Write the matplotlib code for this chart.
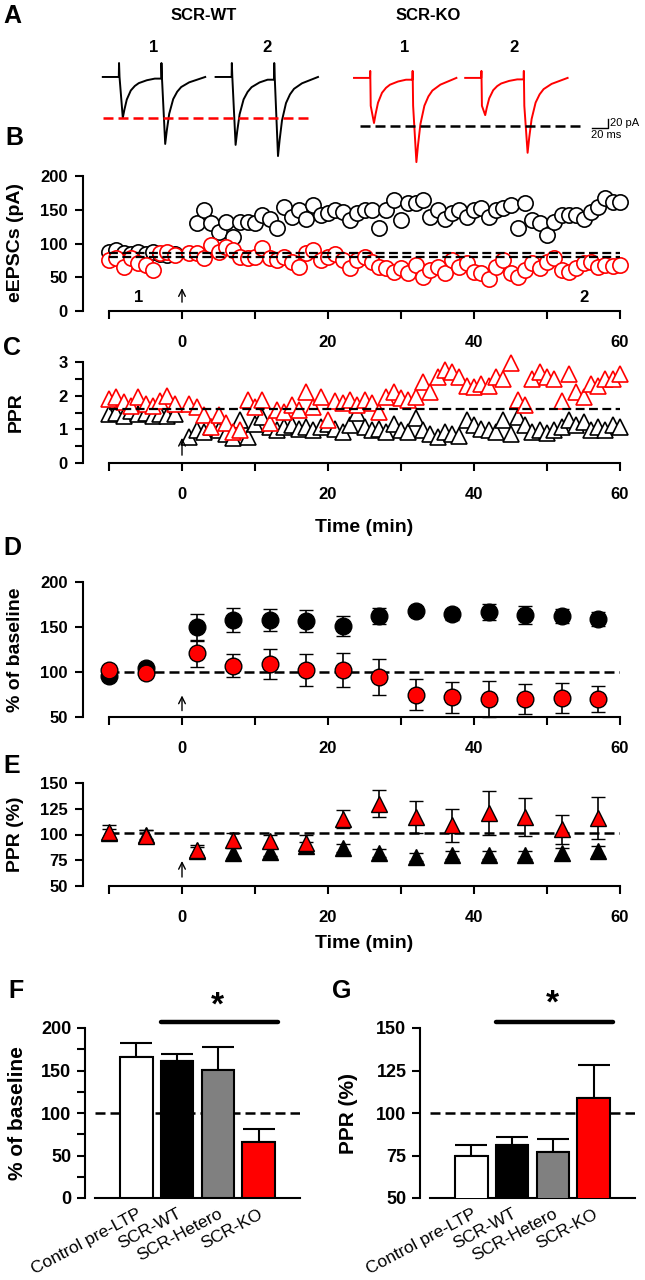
import numpy as np
import matplotlib.pyplot as plt

plt.rcParams['font.family'] = ['Liberation Sans', 'DejaVu Sans']
plt.rcParams['font.weight'] = 'bold'

W, H = 645, 1280

# ---- panel A: paired-pulse traces (ms / pA) ----
sweep_start = [16, 157, 330, 469]          # ms
sweep_color = ['black', 'black', 'red', 'red']
peak_amp = [(88, 144), (146, 170), (97, 181), (80, 161)]   # pA
art_up = [30, 30, 15, 15]
art_dn = [0, 0, 60, 60]
STIM, ISI, SWEEP = 20, 53, 128
decay_t = [0, 2, 5, 10, 15, 20, 30, 40, 55]
decay_f = [1, 0.8, 0.55, 0.33, 0.22, 0.15, 0.08, 0.04, 0.0]

# ---- panel B: eEPSC amplitude (pA) ----
t_base = list(range(-10, 0))
b_wt_base = [88, 91, 86, 84, 87, 85, 88, 84, 83, 84]
t_wt_post_b = list(range(2, 61))
b_wt_post = [130, 150, 130, 117, 132, 110, 132, 132, 130, 142, 137, 123, 154, 140, 150,
             137, 157, 142, 145, 150, 147, 135, 145, 150, 150, 123, 150, 164, 135, 160,
             160, 164, 140, 150, 137, 145, 150, 140, 150, 152, 140, 150, 152, 157, 123,
             160, 135, 130, 113, 132, 142, 142, 142, 137, 147, 154, 167, 162, 162]
b_ko_base = [76, 79, 65, 79, 71, 68, 61, 86, 87, 83]
t_post = list(range(1, 61))
b_ko_post = [86, 86, 78, 98, 87, 95, 90, 80, 78, 80, 93, 78, 75, 80, 73, 65, 86, 91, 75, 80,
             85, 75, 64, 75, 80, 73, 65, 64, 58, 64, 56, 68, 51, 61, 65, 56, 75, 65, 71, 58,
             56, 48, 65, 75, 56, 51, 61, 71, 64, 73, 78, 61, 58, 64, 71, 73, 65, 68, 66, 68]
b_ref = [86, 80]

# ---- panel C: PPR ----
c_wt_base = [1.45, 1.5, 1.4, 1.55, 1.45, 1.5, 1.4, 1.45, 1.4, 1.45]
c_wt_post = [0.77, 0.97, 0.93, 1.07, 0.97, 0.85, 0.75, 1.27, 0.77, 1.17, 1.37, 1.07, 0.97, 1.07,
             1.12, 1.0, 1.07, 0.97, 1.07, 1.17, 1.02, 0.93, 1.12, 1.48, 1.07, 0.97, 1.02, 0.93,
             1.17, 0.97, 0.93, 1.33, 0.97, 0.87, 0.77, 0.93, 0.87, 0.8, 1.27, 1.12, 1.02, 0.97,
             0.93, 1.27, 0.87, 1.37, 1.12, 0.93, 0.97, 0.9, 0.97, 1.07, 1.27, 1.12, 1.22, 0.97,
             1.07, 0.97, 1.12, 1.07]
c_ko_base = [1.9, 1.95, 1.8, 1.7, 1.95, 1.75, 1.7, 1.85, 2.0, 1.75]
c_ko_post = [1.75, 1.67, 1.42, 1.07, 1.42, 1.2, 0.93, 0.97, 1.87, 1.67, 1.87, 1.2, 1.57, 1.52,
             1.72, 1.57, 2.1, 1.67, 1.97, 1.27, 1.83, 1.78, 1.87, 1.72, 1.87, 1.78, 1.52, 1.97,
             2.1, 1.92, 1.87, 1.97, 2.4, 2.1, 2.55, 2.75, 2.7, 2.55, 2.3, 2.25, 2.35, 2.3, 2.55,
             2.5, 2.97, 1.87, 1.72, 2.5, 2.7, 2.55, 2.5, 1.83, 2.65, 2.1, 1.97, 2.35, 2.3, 2.5,
             2.5, 2.65]
c_ref = 1.6

# ---- panels D / E: 5-min averages ----
d_t = [-10, -5, 2, 7, 12, 17, 22, 27, 32, 37, 42, 47, 52, 57]
d_wt = [96, 104, 150, 158, 158, 157, 151, 162, 168, 164, 167, 163, 162, 159]
d_wt_err = [4, 4, 15, 13, 12, 12, 11, 9, 4, 6, 9, 10, 8, 8]
d_ko = [102, 99, 121, 107, 109, 102, 102, 94, 75, 72, 70, 70, 71, 70]
d_ko_err = [5, 5, 15, 13, 17, 18, 19, 20, 17, 17, 20, 17, 17, 14]
e_wt = [101, 100, 84, 82, 83, 89, 87, 82, 78, 80, 80, 80, 82, 84]
e_wt_err = [4, 4, 4, 5, 4, 4, 4, 4, 4, 4, 4, 4, 5, 5]
e_ko = [102, 99, 85, 95, 94, 92, 115, 130, 117, 109, 121, 117, 105, 116]
e_ko_err = [7, 5, 5, 6, 6, 8, 9, 13, 16, 16, 21, 18, 14, 20]

# ---- panels F / G: bar summaries ----
groups = ['Control pre-LTP', 'SCR-WT', 'SCR-Hetero', 'SCR-KO']
bar_colors = ['white', 'black', '#808080', '#ff0000']
f_vals = [166, 161, 151, 66]
f_err = [16, 8, 27, 15]
g_vals = [75, 81, 77, 109]
g_err = [6, 5, 8, 19]

fig = plt.figure(figsize=(W / 100, H / 100), dpi=100)


def add_ax(left, top, right, bottom):
    return fig.add_axes([left / W, 1 - bottom / H, (right - left) / W, (bottom - top) / H])


def ftext(x, y, s, **kw):
    fig.text(x / W, 1 - y / H, s, **kw)


DASH = (0, (4, 2))


def time_axis(ax, ylim, yticks, ylabels, minor=None):
    ax.set_xlim(-10, 60)
    ax.set_ylim(*ylim)
    for s in ['top', 'right']:
        ax.spines[s].set_visible(False)
    ax.spines['left'].set_position(('outward', 18.7))
    for s in ['left', 'bottom']:
        ax.spines[s].set_linewidth(1.5)
    ax.set_xticks(range(-10, 61, 10))
    ax.set_xticklabels(['', '0', '', '20', '', '40', '', '60'])
    ax.set_yticks(yticks)
    ax.set_yticklabels(ylabels)
    if minor is not None:
        ax.set_yticks(minor, minor=True)
    ax.tick_params(which='both', direction='out', length=6, width=1.5, labelsize=12)
    ax.tick_params(axis='x', pad=11)
    ax.tick_params(axis='y', pad=5)


def arrow(ax, y0, y1):
    ax.annotate('', xy=(0, y1), xytext=(0, y0),
                arrowprops=dict(arrowstyle='->', lw=1.0, color='black', mutation_scale=12))


# ---------------- A ----------------
axA = add_ax(90, 40, 640, 170)
axA.set_xlim(0, 687.5)
axA.set_ylim(-200, 79.5)
axA.axis('off')
for t0, col, amps, up, dn in zip(sweep_start, sweep_color, peak_amp, art_up, art_dn):
    base = 0 if col == 'black' else -2
    xs, ys = [t0], [base]
    for k, a in enumerate(amps):
        ts = t0 + STIM + k * ISI
        stop = t0 + STIM + (k + 1) * ISI if k == 0 else t0 + SWEEP
        xs += [ts, ts + 0.3, ts + 0.9, ts + 5]
        ys += [ys[-1], base + up, base - dn, base - a]
        for dt, f in zip(decay_t[1:], decay_f[1:]):
            if ts + 5 + dt < stop:
                xs.append(ts + 5 + dt)
                ys.append(base - a * f)
    xs.append(t0 + SWEEP)
    ys.append(base)
    axA.plot(xs, ys, color=col, lw=1.4)
axA.plot([16, 274], [-88, -88], color='red', lw=1.8, ls=DASH)
axA.plot([337, 612], [-105, -105], color='black', lw=1.8, ls=DASH)
# scale bar 20 ms / 20 pA
axA.plot([628, 648, 648], [-110, -110, -90], color='black', lw=1.0)
axA.text(650, -100, '20 pA', fontsize=8, fontweight='normal', va='center', ha='left')
axA.text(626, -114, '20 ms', fontsize=8, fontweight='normal', va='top', ha='left')

ftext(12, 16, 'A', fontsize=18, ha='center', va='center')
ftext(204, 16, 'SCR-WT', fontsize=12, ha='center', va='center')
ftext(428, 16, 'SCR-KO', fontsize=12, ha='center', va='center')
for x, s in [(154, '1'), (267, '2'), (405, '1'), (514, '2')]:
    ftext(x, 48, s, fontsize=12, ha='center', va='center')

# ---------------- B ----------------
axB = add_ax(109, 176, 620, 311)
time_axis(axB, (0, 200), [0, 50, 100, 150, 200], ['0', '50', '100', '150', '200'])
mk = dict(ls='none', marker='o', ms=11, mfc='white', mew=1.2, clip_on=False)
axB.plot(t_base, b_wt_base, mec='black', zorder=3, **mk)
axB.plot(t_wt_post_b, b_wt_post, mec='black', zorder=3, **mk)
axB.plot(t_base, b_ko_base, mec='red', zorder=4, **mk)
axB.plot(t_post, b_ko_post, mec='red', zorder=4, **mk)
for r in b_ref:
    axB.axhline(r, color='black', lw=1.6, ls=DASH, zorder=5)
arrow(axB, 9, 38)
axB.text(-6, 20, '1', fontsize=12, ha='center', va='center')
axB.text(55, 20, '2', fontsize=12, ha='center', va='center')
ftext(14, 138, 'B', fontsize=18, ha='center', va='center')
ftext(16, 243, 'eEPSCs (pA)', fontsize=14, rotation=90, ha='center', va='center')

# ---------------- C ----------------
axC = add_ax(109, 362, 620, 463)
time_axis(axC, (0, 3), [0, 1, 2, 3], ['0', '1', '2', '3'], minor=[0.5, 1.5, 2.5])
tk = dict(ls='none', marker='^', ms=12, mfc='white', mew=1.2, clip_on=False)
axC.plot(t_base, c_wt_base, mec='black', zorder=3, **tk)
axC.plot(t_post, c_wt_post, mec='black', zorder=3, **tk)
axC.plot(t_base, c_ko_base, mec='red', zorder=4, **tk)
axC.plot(t_post, c_ko_post, mec='red', zorder=4, **tk)
axC.axhline(c_ref, color='black', lw=1.6, ls=DASH, zorder=5)
arrow(axC, 0.15, 0.83)
ftext(12, 348, 'C', fontsize=18, ha='center', va='center')
ftext(16, 412, 'PPR', fontsize=14, rotation=90, ha='center', va='center')
ftext(364, 528, 'Time (min)', fontsize=14, ha='center', va='center')

# ---------------- D ----------------
axD = add_ax(109, 582, 620, 717)
time_axis(axD, (50, 200), [50, 100, 150, 200], ['50', '100', '150', '200'])
axD.axhline(100, color='black', lw=1.8, ls=DASH, zorder=1)
eb = dict(fmt='o', ms=12, mec='black', mew=1.0, ecolor='black', elinewidth=1.2,
          capsize=5, capthick=1.2, clip_on=False)
axD.errorbar(d_t, d_wt, yerr=d_wt_err, mfc='black', zorder=3, **eb)
axD.errorbar(d_t, d_ko, yerr=d_ko_err, mfc='#ff0000', zorder=4, **eb)
arrow(axD, 54, 77)
ftext(12, 548, 'D', fontsize=18, ha='center', va='center')
ftext(16, 650, '% of baseline', fontsize=14, rotation=90, ha='center', va='center')

# ---------------- E ----------------
axE = add_ax(109, 783, 620, 886)
time_axis(axE, (50, 150), [50, 75, 100, 125, 150], ['50', '75', '100', '125', '150'])
axE.axhline(101, color='black', lw=1.8, ls=DASH, zorder=1)
eb['fmt'] = '^'
axE.errorbar(d_t, e_wt, yerr=e_wt_err, mfc='black', zorder=3, **eb)
axE.errorbar(d_t, e_ko, yerr=e_ko_err, mfc='#ff0000', zorder=4, **eb)
arrow(axE, 56, 77)
ftext(12, 766, 'E', fontsize=18, ha='center', va='center')
ftext(16, 834, 'PPR (%)', fontsize=14, rotation=90, ha='center', va='center')
ftext(364, 944, 'Time (min)', fontsize=14, ha='center', va='center')


# ---------------- F / G ----------------
def bar_panel(ax, vals, errs, ylim, yticks, minor, sig_y, star_y):
    x = np.arange(len(groups))
    ax.set_xlim(-1.02, 4.02)
    ax.set_ylim(*ylim)
    ax.axhline(100, color='black', lw=1.8, ls=DASH, zorder=1)
    ax.bar(x, vals, width=0.79, color=bar_colors, edgecolor='black', linewidth=1.5, zorder=3)
    ax.errorbar(x, vals, yerr=[np.zeros(len(vals)), errs], fmt='none', ecolor='black',
                elinewidth=1.5, capsize=11.5, capthick=1.5, zorder=2)
    for s in ['top', 'right']:
        ax.spines[s].set_visible(False)
    ax.spines['left'].set_position(('outward', 7))
    for s in ['left', 'bottom']:
        ax.spines[s].set_linewidth(1.5)
    ax.set_yticks(yticks)
    ax.set_yticks(minor, minor=True)
    ax.tick_params(axis='y', which='both', direction='out', length=6, width=1.5,
                   labelsize=13, pad=4)
    ax.set_xticks(x)
    ax.set_xticklabels(groups, rotation=28, ha='right', va='top', rotation_mode='anchor',
                       fontsize=12.5, fontweight='normal')
    ax.tick_params(axis='x', length=0, pad=6)
    ax.plot([0.6, 3.48], [sig_y, sig_y], color='black', lw=3.2, clip_on=False,
            solid_capstyle='round')
    ax.text(2.0, star_y, '*', fontsize=24, ha='center', va='center')


axF = add_ax(95, 1028, 300, 1198)
bar_panel(axF, f_vals, f_err, (0, 200), [0, 50, 100, 150, 200], [25, 75, 125, 175], 207, 226)
ftext(16, 991, 'F', fontsize=18, ha='center', va='center')
ftext(18, 1113, '% of baseline', fontsize=15, rotation=90, ha='center', va='center')

axG = add_ax(430, 1028, 635, 1198)
bar_panel(axG, g_vals, g_err, (50, 150), [50, 75, 100, 125, 150], [], 153.5, 164)
ftext(342, 991, 'G', fontsize=18, ha='center', va='center')
ftext(348, 1113, 'PPR (%)', fontsize=15, rotation=90, ha='center', va='center')

fig.savefig('out.png', dpi=100)
